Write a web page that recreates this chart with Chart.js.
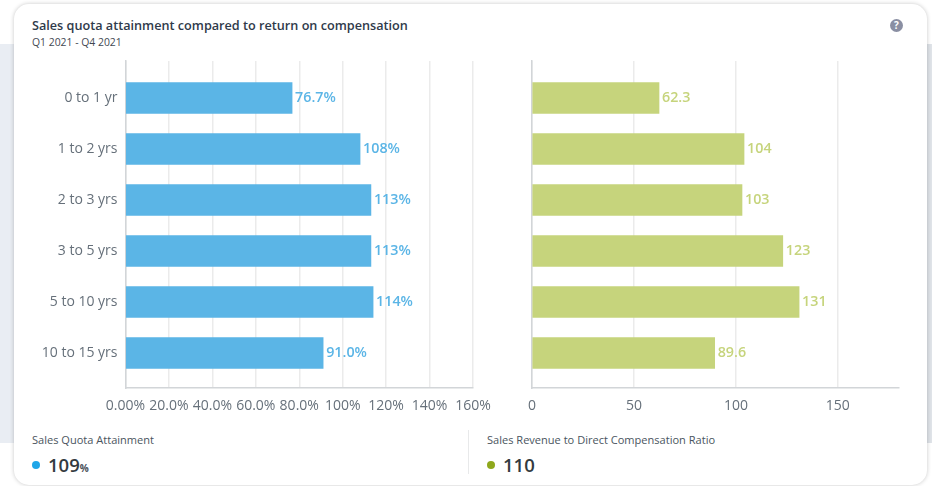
<!DOCTYPE html>
<html>
<head>
<meta charset="utf-8">
<title>Sales quota attainment</title>
<script src="https://cdn.jsdelivr.net/npm/chart.js@4/dist/chart.umd.js"></script>
<style>
html, body { margin: 0; padding: 0; background: #fff; }
body { width: 932px; height: 486px; position: relative; overflow: hidden; font-family: "Open Sans", sans-serif; }
.band { position: absolute; left: 0; top: 44px; width: 932px; height: 399px; background: linear-gradient(90deg, #e9edf3 0, #e9edf3 500px, #dfe3e8 900px); }
.card { position: absolute; left: 14px; top: 4px; width: 913px; height: 481px; background: #fff; border-radius: 15px; box-shadow: 0 0 4px rgba(0,0,0,.22); }
.title { position: absolute; left: 32px; top: 16px; font-size: 12.66px; font-weight: 600; color: #2f3a4a; line-height: 18px; white-space: nowrap; }
.sub { position: absolute; left: 32px; top: 35px; font-size: 10.4px; color: #3f4852; line-height: 15px; white-space: nowrap; }
.help { position: absolute; left: 890px; top: 19px; width: 13px; height: 13px; border-radius: 50%; background: #8a8fa3; color: #fff; font-size: 10px; font-weight: 700; line-height: 13px; text-align: center; }
canvas { position: absolute; }
.kpi-name { position: absolute; top: 432px; font-size: 11.05px; color: #4a5560; line-height: 15px; white-space: nowrap; }
.kpi-dot { position: absolute; top: 461px; width: 8px; height: 8px; border-radius: 50%; }
.kpi-val { position: absolute; top: 452px; font-size: 18.5px; font-weight: 600; color: #333a40; line-height: 26px; white-space: nowrap; }
.kpi-val small { font-size: 10px; font-weight: 700; color: #4a5058; }
.divider { position: absolute; left: 468px; top: 430px; width: 1px; height: 44px; background: #e8e9ea; }
</style>
</head>
<body>
<div class="band"></div>
<div class="card"></div>
<div class="title">Sales quota attainment compared to return on compensation</div>
<div class="sub">Q1 2021 - Q4 2021</div>
<div class="help">?</div>

<canvas id="quotaChart" width="486" height="375" style="left:14px;top:50px"></canvas>
<canvas id="ratioChart" width="427" height="375" style="left:500px;top:50px"></canvas>

<div class="kpi-name" style="left:32px">Sales Quota Attainment</div>
<div class="kpi-dot" style="left:32px;background:#1fa6e8"></div>
<div class="kpi-val" style="left:48px">109<small>%</small></div>
<div class="divider"></div>
<div class="kpi-name" style="left:487px">Sales Revenue to Direct Compensation Ratio</div>
<div class="kpi-dot" style="left:487px;background:#8fa81c"></div>
<div class="kpi-val" style="left:503px">110</div>

<script>
var tenure = ['0 to 1 yr', '1 to 2 yrs', '2 to 3 yrs', '3 to 5 yrs', '5 to 10 yrs', '10 to 15 yrs'];
var quotaAttainment = [76.7, 108, 113, 113, 114, 91.0];
var revenueRatio = [62.3, 104, 103, 123, 131, 89.6];
var quotaTicks = [0, 20, 40, 60, 80, 100, 120, 140, 160];
var ratioTicks = [0, 50, 100, 150];

var FONT = '"Open Sans", sans-serif';
var GRID = '#ebebeb';
var AXIS = '#d2d5d8';
var TICK = '#66707a';

// value label at the end of every bar
var barLabels = {
    id: 'barLabels',
    afterDatasetsDraw: function (chart, args, opts) {
        var ctx = chart.ctx;
        var ds = chart.data.datasets[0];
        ctx.save();
        ctx.font = '600 14.3px ' + FONT;
        ctx.fillStyle = opts.color;
        ctx.textBaseline = 'middle';
        chart.getDatasetMeta(0).data.forEach(function (bar, i) {
            ctx.fillText(opts.format(ds.data[i].x), bar.x + 3, bar.y);
        });
        ctx.restore();
    }
};

function fixedTicks(list) {
    return function (scale) {
        scale.ticks = list.map(function (v) { return { value: v }; });
    };
}

function makeChart(id, values, color, labelColor, cfg) {
    return new Chart(document.getElementById(id), {
        type: 'bar',
        plugins: [barLabels],
        data: {
            datasets: [{
                data: values.map(function (v, i) { return { x: v, y: i }; }),
                backgroundColor: color,
                barThickness: 31
            }]
        },
        options: {
            indexAxis: 'y',
            responsive: false,
            animation: false,
            events: [],
            layout: { padding: { left: 0, right: cfg.right, top: 11, bottom: 0 } },
            plugins: {
                legend: { display: false },
                tooltip: { enabled: false },
                barLabels: { color: labelColor, format: cfg.label }
            },
            scales: {
                x: {
                    type: 'linear',
                    min: 0,
                    max: cfg.max,
                    afterBuildTicks: fixedTicks(cfg.ticks),
                    afterFit: function (s) { s.height = 37; s.paddingLeft = 0; s.paddingRight = 0; },
                    grid: { color: GRID, lineWidth: 1.5, drawTicks: false },
                    border: { color: AXIS, width: 1.5 },
                    ticks: {
                        autoSkip: false,
                        maxRotation: 0,
                        padding: 10,
                        color: TICK,
                        font: { family: FONT, size: 14 },
                        callback: cfg.tick
                    }
                },
                y: {
                    type: 'linear',
                    // the bar chart default turns this on for its index axis
                    offset: false,
                    reverse: true,
                    min: -0.725,
                    max: 5.687,
                    afterBuildTicks: fixedTicks(tenure.map(function (c, i) { return i; })),
                    afterFit: function (s) { s.width = cfg.axisWidth; s.paddingTop = 0; s.paddingBottom = 0; },
                    grid: { display: false, drawTicks: false },
                    border: { color: AXIS, width: 1.5 },
                    ticks: {
                        display: cfg.showNames,
                        autoSkip: false,
                        padding: 8,
                        color: TICK,
                        font: { family: FONT, size: 14 },
                        callback: function (v) { return tenure[v]; }
                    }
                }
            }
        }
    });
}

function pct(v) { return v.toPrecision(3) + '%'; }

makeChart('quotaChart', quotaAttainment, '#5bb5e6', '#5bb5e6', {
    max: 160,
    ticks: quotaTicks,
    right: 27,
    axisWidth: 111.5,
    showNames: true,
    label: pct,
    tick: function (v) { return pct(v); }
});

makeChart('ratioChart', revenueRatio, '#c6d47c', '#c6d47c', {
    max: 180,
    ticks: ratioTicks,
    right: 28,
    axisWidth: 32,
    showNames: false,
    label: function (v) { return v.toPrecision(3); },
    tick: function (v) { return String(v); }
});
</script>
</body>
</html>
